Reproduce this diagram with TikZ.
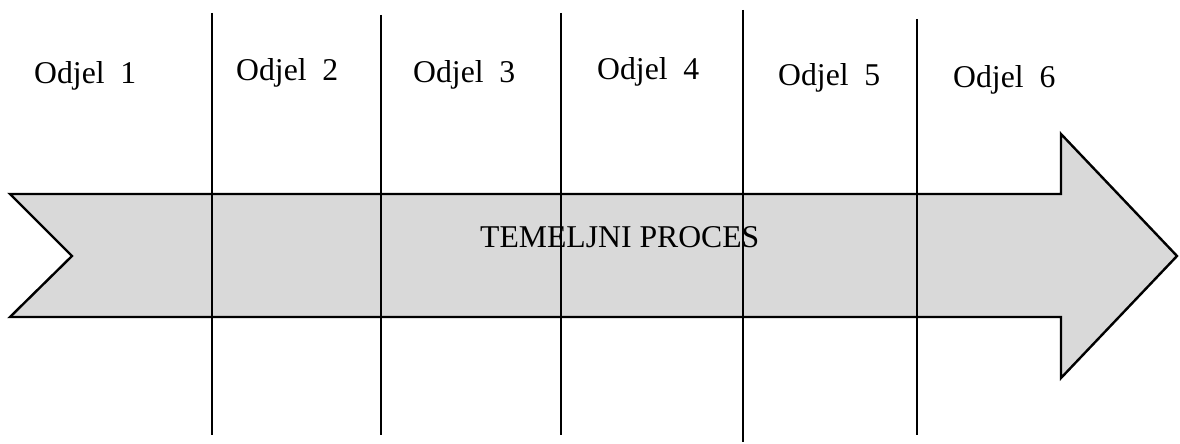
\documentclass[tikz,border=0pt]{standalone}
\usepackage{fontspec}
\setmainfont{Liberation Serif}
\definecolor{arrowgray}{HTML}{D9D9D9}
\tikzset{
  lbl/.style={anchor=base west, inner sep=0pt, font=\fontsize{31.7}{36}\selectfont},
  divider/.style={draw=black, line width=1.8pt},
  process/.style={draw=black, fill=arrowgray, line width=2.4pt, line join=miter}
}
\begin{document}
\begin{tikzpicture}[x=1pt,y=-1pt]
\useasboundingbox (0,0) rectangle (1180,444);
% process arrow
\draw[process] (10,194) -- (1061,194) -- (1061,134) -- (1177,256) -- (1061,378) -- (1061,317) -- (10,317) -- (72,256) -- cycle;
\node[lbl] (proc) at (480,247) {TEMELJNI PROCES};
% labels
\node[lbl] (o1) at (34,83) {Odjel\ \ 1};
\node[lbl] (o2) at (236,81) {Odjel\ \ 2};
\node[lbl] (o3) at (413,82) {Odjel\ \ 3};
\node[lbl] (o4) at (597,80) {Odjel\ \ 4};
\node[lbl] (o5) at (778,85) {Odjel\ \ 5};
\node[lbl] (o6) at (953,87) {Odjel\ \ 6};
% dividers
\coordinate (t1) at (212,13);  \coordinate (b1) at (212,435);
\coordinate (t2) at (381,15);  \coordinate (b2) at (381,435);
\coordinate (t3) at (561,13);  \coordinate (b3) at (561,435);
\coordinate (t4) at (743,10);  \coordinate (b4) at (743,442);
\coordinate (t5) at (917,19);  \coordinate (b5) at (917,435);
\draw[divider] (t1) -- (b1);
\draw[divider] (t2) -- (b2);
\draw[divider] (t3) -- (b3);
\draw[divider] (t4) -- (b4);
\draw[divider] (t5) -- (b5);
\end{tikzpicture}
\end{document}
